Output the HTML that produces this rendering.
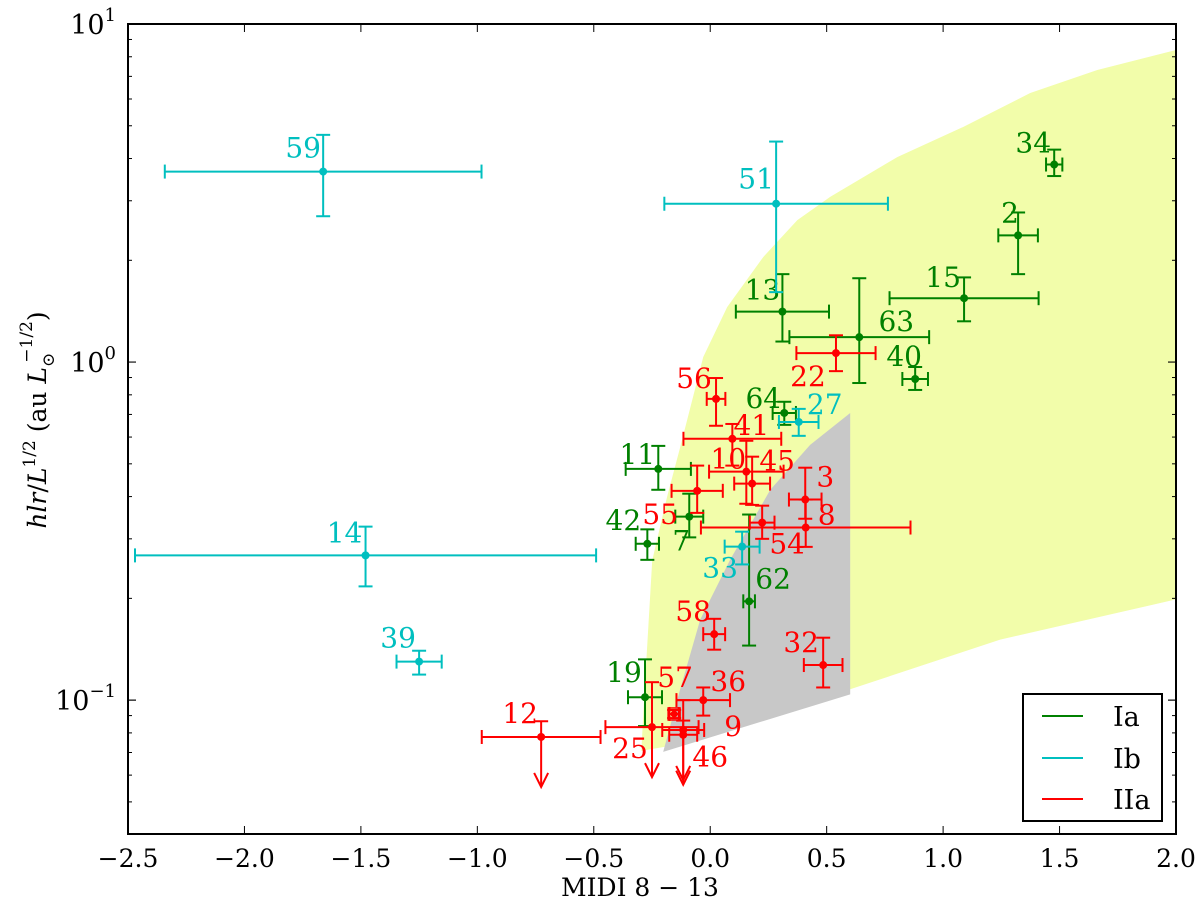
<!DOCTYPE html>
<html><head><meta charset="utf-8"><style>
body{margin:0;background:#fff}
text{font-family:"DejaVu Serif","Liberation Serif",serif}
#chart{position:absolute;left:0;top:0}
</style></head><body>
<svg id="chart" width="1200" height="903" xmlns="http://www.w3.org/2000/svg">
<g id="regions"></g><g id="marks"></g><g id="axes"></g>
</svg>
<script>
const xTicks=[-2.5,-2.0,-1.5,-1.0,-0.5,0.0,0.5,1.0,1.5,2.0];
const xTickLabels=["\u22122.5","\u22122.0","\u22121.5","\u22121.0","\u22120.5","0.0","0.5","1.0","1.5","2.0"];
const yDecades=[-1,0,1];
const yellowX=[-0.296,-0.279,-0.249,-0.185,-0.129,-0.030,0.073,0.228,0.374,0.515,0.803,1.086,1.374,1.662,2.0,2.0,1.245,0.601,0.215,-0.129];
const yellowY=[0.0708,0.1153,0.259,0.40,0.56,1.035,1.455,2.046,2.63,3.08,4.04,4.96,6.25,7.31,8.38,0.1986,0.151,0.1077,0.0879,0.0741];
const grayX=[-0.202,-0.129,-0.043,0.086,0.258,0.429,0.601,0.601];
const grayY=[0.0703,0.1077,0.173,0.2606,0.419,0.569,0.707,0.104];
const ids=  ["34","2","15","63","40","13","64","11","7","42","62","19","59","51","27","14","33","39","22","56","41","10","45","55","3","8","54","58","32","36","57","25","9","46","12"];
const groups=["Ia","Ia","Ia","Ia","Ia","Ia","Ia","Ia","Ia","Ia","Ia","Ia","Ib","Ib","Ib","Ib","Ib","Ib","IIa","IIa","IIa","IIa","IIa","IIa","IIa","IIa","IIa","IIa","IIa","IIa","IIa","IIa","IIa","IIa","IIa"];
const xVals=[1.477,1.322,1.09,0.64,0.88,0.31,0.318,-0.223,-0.09,-0.27,0.167,-0.28,-1.662,0.283,0.38,-1.48,0.137,-1.25,0.54,0.025,0.095,0.155,0.18,-0.056,0.408,0.41,0.223,0.017,0.485,-0.03,-0.155,-0.25,-0.116,-0.116,-0.726];
const xErr=[0.035,0.085,0.32,0.30,0.055,0.2,0.05,0.14,0.06,0.05,0.025,0.073,0.68,0.48,0.085,0.99,0.075,0.097,0.17,0.04,0.21,0.16,0.077,0.11,0.07,0.45,0.053,0.047,0.083,0.115,0.02,0.2,0.09,0.06,0.255];
const yVals=[3.84,2.37,1.545,1.185,0.891,1.41,0.707,0.483,0.349,0.290,0.196,0.102,3.66,2.94,0.665,0.268,0.2845,0.130,1.063,0.778,0.593,0.474,0.437,0.416,0.392,0.324,0.335,0.1567,0.127,0.100,0.091,0.0832,0.0816,0.079,0.0778];
const yUp=[4.25,2.77,1.78,1.77,0.967,1.82,0.763,0.565,0.408,0.32,0.354,0.132,4.70,4.49,0.727,0.326,0.315,0.14,1.20,0.897,0.656,0.585,0.525,0.494,0.487,0.392,0.376,0.174,0.153,0.109,0.0935,0.113,0.1,0.087,0.0866];
const yLow=[3.55,1.82,1.32,0.867,0.827,1.15,0.652,0.419,0.303,0.26,0.145,0.0838,2.70,1.61,0.605,0.217,0.252,0.119,0.94,0.648,0.494,0.381,0.378,0.358,0.344,0.284,0.30,0.141,0.109,0.09,0.0885,null,null,null,null];
const labelDX=[-21,-8,-21,37,-11,-20,-21,-21,-8,-24,24,-21,-20,-20,26,-21,-22,-21,-28,-22,19,-18,25,-37,20,21,25,-21,-22,25,1,-22,50,27,-21];
const labelDY=[-12,-13,-11,-6,-13,-12,-5,-5,34,-14,-13,-15,-14,-15,-8,-13,31,-14,33,-11,-4,-3,-13,33,-13,-3,31,-13,-13,-9,-27,31,6,32,-14];
const colors={Ia:"#008000",Ib:"#00bfbf",IIa:"#ff0000"};

const L=128,R=1176,T=24,B=834,xmin=-2.5,xmax=2.0,lmax=1,lmin=-1.396;
const X=v=>L+(v-xmin)/(xmax-xmin)*(R-L);
const Y=v=>T+(lmax-Math.log10(v))/(lmax-lmin)*(B-T);
const NS="http://www.w3.org/2000/svg";
function mk(tag,attrs,parent){const e=document.createElementNS(NS,tag);for(const k in attrs)e.setAttribute(k,attrs[k]);parent.appendChild(e);return e;}
const reg=document.getElementById('regions'),marks=document.getElementById('marks'),axes=document.getElementById('axes');

let yp=mk('polygon',{points:yellowX.map((x,i)=>X(x)+','+Y(yellowY[i])).join(' '),fill:'#f2fdaa'},reg);


let gp=mk('polygon',{points:grayX.map((x,i)=>X(x)+','+Y(grayY[i])).join(' '),fill:'#c8c8c8'},reg);



ids.forEach((id,i)=>{
  const c=colors[groups[i]];
  const g=mk('g',{stroke:c,'stroke-width':2,fill:'none'},marks);
  
  
  const px=X(xVals[i]),py=Y(yVals[i]);
  const x1=X(xVals[i]-xErr[i]),x2=X(xVals[i]+xErr[i]);
  mk('line',{x1:x1,x2:x2,y1:py,y2:py},g);
  mk('line',{x1:x1,x2:x1,y1:py-7,y2:py+7},g);
  mk('line',{x1:x2,x2:x2,y1:py-7,y2:py+7},g);
  const yu=Y(yUp[i]);
  mk('line',{x1:px-7,x2:px+7,y1:yu,y2:yu},g);
  if(yLow[i]!==null){
    const yl=Y(yLow[i]);
    mk('line',{x1:px,x2:px,y1:yu,y2:yl},g);
    mk('line',{x1:px-7,x2:px+7,y1:yl,y2:yl},g);
  } else {
    const ya=py+50;
    mk('line',{x1:px,x2:px,y1:yu,y2:ya},g);
    mk('polyline',{points:(px-7)+','+(ya-14)+' '+px+','+ya+' '+(px+7)+','+(ya-14)},g);
  }
  if(id==="57") mk('rect',{x:px-6,y:py-6,width:12,height:12,'stroke-width':1.5},g);
  mk('circle',{cx:px,cy:py,r:id==="57"?3.5:4,fill:c,stroke:'none'},g);
  const t=mk('text',{x:px+labelDX[i],y:py+labelDY[i],'text-anchor':'middle','font-size':28,fill:c,stroke:'none'},g);
  t.textContent=id;
  
  
});

let fr=mk('rect',{x:L,y:T,width:R-L,height:B-T,fill:'none',stroke:'#000','stroke-width':2},axes);


xTicks.forEach((v,i)=>{
  const x=X(v);
  mk('line',{x1:x,x2:x,y1:B,y2:B-8,stroke:'#000','stroke-width':1},axes);
  mk('line',{x1:x,x2:x,y1:T,y2:T+8,stroke:'#000','stroke-width':1},axes);
  const t=mk('text',{x:x,y:B+33,'text-anchor':'middle','font-size':25},axes);
  t.textContent=xTickLabels[i];
  
  
});
for(let d=-2;d<=0;d++){for(let m=1;m<10;m++){const v=m*Math.pow(10,d);const lv=Math.log10(v);if(lv<lmin||lv>lmax)continue;const y=Y(v);const len=m===1?8:4;
  mk('line',{x1:L,x2:L+len,y1:y,y2:y,stroke:'#000','stroke-width':1},axes);
  mk('line',{x1:R,x2:R-len,y1:y,y2:y,stroke:'#000','stroke-width':1},axes);}}
yDecades.forEach(d=>{
  const y=Y(Math.pow(10,d));
  mk('line',{x1:L,x2:L+8,y1:y,y2:y,stroke:'#000','stroke-width':1},axes);
  mk('line',{x1:R,x2:R-8,y1:y,y2:y,stroke:'#000','stroke-width':1},axes);
  const t=mk('text',{x:L-12,y:y+10,'text-anchor':'end','font-size':27},axes);
  
  
  const a=mk('tspan',{},t);a.textContent='10';
  const b=mk('tspan',{dy:-13,'font-size':18},t);b.textContent=String(d).replace('-','\u2212');
});
</script>
<svg style="position:absolute;left:0;top:0" width="1200" height="903">
<text x="640" y="896" text-anchor="middle" font-size="25">MIDI 8 − 13</text>
<text transform="translate(46,420) rotate(-90)" text-anchor="middle" font-size="25"><tspan font-style="italic">hlr</tspan>/<tspan font-style="italic">L</tspan><tspan dy="-11" font-size="17">1/2</tspan><tspan dy="11"> (au </tspan><tspan font-style="italic">L</tspan><tspan dy="8" font-size="17">⊙</tspan><tspan dy="-22" dx="-10" font-size="17">−1/2</tspan><tspan dy="14">)</tspan></text>
<g>
<rect x="1023" y="694" width="139" height="127" fill="#fff" stroke="#000" stroke-width="2"/>
<line x1="1042" x2="1083" y1="716" y2="716" stroke="#008000" stroke-width="2"/>
<line x1="1042" x2="1083" y1="758" y2="758" stroke="#00bfbf" stroke-width="2"/>
<line x1="1042" x2="1083" y1="799" y2="799" stroke="#ff0000" stroke-width="2"/>
<text x="1113" y="726" font-size="27">Ia</text>
<text x="1113" y="768" font-size="27">Ib</text>
<text x="1113" y="809" font-size="27">IIa</text>
</g>
</svg>
</body></html>
